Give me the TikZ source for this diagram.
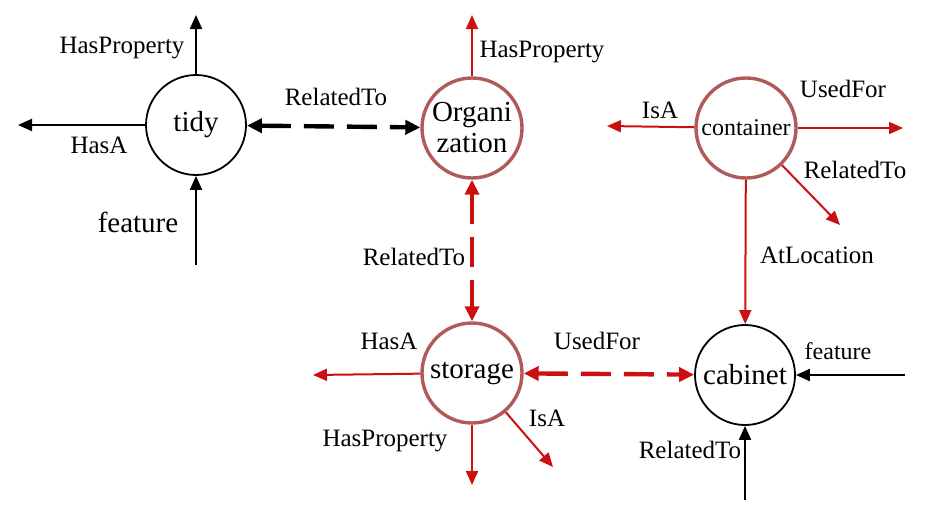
\documentclass[tikz,border=0pt]{standalone}
\usepackage{fontspec}
\setmainfont{Liberation Serif}
\usetikzlibrary{arrows.meta}
\definecolor{cn-red}{HTML}{CC1010}
\definecolor{cn-rim}{HTML}{B05A5A}

\begin{document}
\begin{tikzpicture}[x=0.5pt, y=-0.5pt,
    concept/.style={circle, draw, line width=0.9pt, minimum size=50pt, inner sep=0pt, align=center, font=\fontsize{14.5}{15.5}\selectfont},
    seed/.style={concept, draw=cn-rim, line width=1.7pt},
    rel/.style={inner sep=1pt, font=\fontsize{12.5}{14}\selectfont},
    link/.style={line width=1pt, -{Triangle[length=7pt, width=6pt]}},
    pair/.style={line width=2.2pt, dash pattern=on 15pt off 6.5pt, {Triangle[length=7.5pt, width=7pt]}-{Triangle[length=7.5pt, width=7pt]}}]
    \useasboundingbox (0,0) rectangle (925,514);
    % Concept nodes
    \node[concept] (tidy) at (196,125) {tidy};
    \node[seed] (org) at (472,128) {Organi\\zation};
    \node[seed, font=\fontsize{12}{14}\selectfont] (cont) at (746,128) {container};
    \node[seed] (stor) at (472,373) {storage};
    \node[concept] (cab) at (745,375) {cabinet};
    % Free ends
    \coordinate (tidyN) at (196,15);
    \coordinate (tidyW) at (18,125);
    \coordinate (tidyS) at (196,265);
    \coordinate (orgN) at (472,15);
    \coordinate (contW) at (607,126);
    \coordinate (contE) at (903,128);
    \coordinate (contSE) at (840,225);
    \coordinate (storW) at (313,375);
    \coordinate (storS) at (472,485);
    \coordinate (storSE) at (553,467);
    \coordinate (cabE) at (905,375);
    \coordinate (cabS) at (745,500);
    % Relations of tidy
    \draw[link] (tidy) -- (tidyN);
    \draw[link] (tidy) -- (tidyW);
    \draw[link] (tidyS) -- (tidy);
    \draw[pair] (tidy) -- (org);
    % Relations of the red concepts
    \draw[link, cn-red] (org) -- (orgN);
    \draw[pair, cn-red] (org) -- (stor);
    \draw[link, cn-red] (cont) -- (contW);
    \draw[link, cn-red] (cont) -- (contE);
    \draw[link, cn-red] (cont) -- (contSE);
    \draw[link, cn-red] (cont) -- (cab);
    \draw[link, cn-red] (stor) -- (storW);
    \draw[link, cn-red] (stor) -- (storS);
    \draw[link, cn-red] (stor) -- (storSE);
    \draw[pair, cn-red] (stor) -- (cab);
    % Relations of cabinet
    \draw[link] (cabE) -- (cab);
    \draw[link] (cabS) -- (cab);
    % Labels
    \node[rel] (tidyHP) at (122,48) {HasProperty};
    \node[rel] (tidyHA) at (99,145) {HasA};
    \node[rel, font=\fontsize{14.5}{16}\selectfont] (tidyFe) at (138,222) {feature};
    \node[rel] (tidyRT) at (336,97) {RelatedTo};
    \node[rel] (orgHP) at (542,52) {HasProperty};
    \node[rel] (orgRT) at (414,257) {RelatedTo};
    \node[rel] (contIA) at (660,110) {IsA};
    \node[rel] (contUF) at (843,89) {UsedFor};
    \node[rel] (contRT) at (855,170) {RelatedTo};
    \node[rel] (contAL) at (817,255) {AtLocation};
    \node[rel] (storHA) at (389,341) {HasA};
    \node[rel] (storHP) at (385,441) {HasProperty};
    \node[rel] (storIA) at (547,418) {IsA};
    \node[rel] (storUF) at (597,341) {UsedFor};
    \node[rel, font=\fontsize{12}{14}\selectfont] (cabFe) at (838,351) {feature};
    \node[rel] (cabRT) at (690,450) {RelatedTo};
\end{tikzpicture}
\end{document}
